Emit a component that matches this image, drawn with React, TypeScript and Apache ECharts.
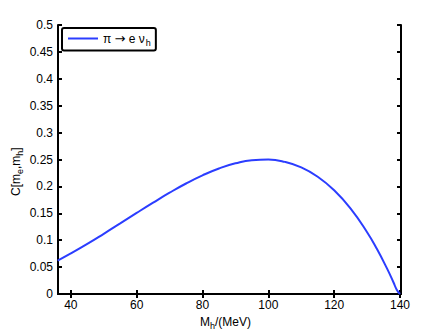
import React, { useEffect, useRef } from "react";
import * as echarts from "echarts";

const massMeV = [36, 40, 45, 50, 55, 60, 65, 70, 75, 80, 85, 90, 95, 100, 105, 110, 115, 120, 125, 130, 133, 136, 138, 139, 140];
const cValues = [0.0621, 0.0754, 0.0931, 0.1119, 0.1312, 0.1507, 0.1698, 0.1883, 0.2054, 0.2206, 0.2333, 0.2429, 0.2487, 0.2498, 0.2456, 0.2353, 0.218, 0.1928, 0.1587, 0.1149, 0.0835, 0.048, 0.0219, 0.0081, 0];
const xTicks = [40, 60, 80, 100, 120, 140];
const seriesName = "pi-e-nuh";

const FONT = "'Liberation Sans', Arial, Helvetica, sans-serif";
const BLUE = "#2b3dff";

export default function App() {
  const ref = useRef<HTMLDivElement>(null);
  useEffect(() => {
    if (!ref.current) return;
    const chart = echarts.init(ref.current, null, { renderer: "svg" });
    const data = massMeV.map((m, i) => [m, cValues[i]]);
    const axisLine = { show: true, lineStyle: { color: "#000", width: 2 } };
    const tick = { show: true, inside: true, length: 4, lineStyle: { color: "#000", width: 2 } };
    chart.setOption({
      animation: false,
      backgroundColor: "#fff",
      grid: { left: 58, right: 42, top: 25, bottom: 38, containLabel: false },
      legend: {
        show: true,
        left: 62,
        top: 28,
        orient: "vertical",
        data: [seriesName],
        backgroundColor: "#fff",
        borderColor: "#000",
        borderWidth: 2,
        borderRadius: 2,
        padding: [4, 5, 3, 6],
        itemWidth: 30,
        itemHeight: 2,
        itemGap: 0,
        icon: "rect",
        formatter: () => "{a|\u03c0 }{r|\u2192}{a| e \u03bd}{s|h}",
        textStyle: {
          fontFamily: FONT,
          fontSize: 12,
          color: "#000",
          rich: {
            a: { fontFamily: FONT, fontSize: 12, color: "#000" },
            r: { fontFamily: "'DejaVu Sans', sans-serif", fontSize: 13, color: "#000" },
            s: { fontFamily: FONT, fontSize: 9, color: "#000", padding: [9, 0, 0, 1] },
          },
        },
      },
      xAxis: [
        {
          type: "value",
          min: 36.1,
          max: 140.3,
          position: "bottom",
          axisLine,
          axisTick: { ...tick, customValues: xTicks },
          splitLine: { show: false },
          axisLabel: { customValues: xTicks, color: "#000", fontFamily: FONT, fontSize: 12, margin: 5 },
        },
        {
          type: "value",
          min: 36.1,
          max: 140.3,
          position: "top",
          axisLine,
          axisTick: { ...tick, customValues: xTicks },
          splitLine: { show: false },
          axisLabel: { show: false },
        },
      ],
      yAxis: [
        {
          type: "value",
          min: 0,
          max: 0.5,
          interval: 0.05,
          position: "left",
          axisLine,
          axisTick: tick,
          splitLine: { show: false },
          axisLabel: { color: "#000", fontFamily: FONT, fontSize: 12, margin: 5 },
        },
        {
          type: "value",
          min: 0,
          max: 0.5,
          interval: 0.05,
          position: "right",
          axisLine,
          axisTick: tick,
          splitLine: { show: false },
          axisLabel: { show: false },
        },
      ],
      series: [
        {
          name: seriesName,
          type: "line",
          data,
          smooth: true,
          showSymbol: false,
          lineStyle: { color: BLUE, width: 2 },
          itemStyle: { color: BLUE },
        },
      ],
      graphic: [
        {
          type: "text",
          x: 200,
          y: 313,
          style: {
            text: "{a|M}{s|h}{a|/(MeV)}",
            fontFamily: FONT,
            rich: {
              a: { fontFamily: FONT, fontSize: 12, fill: "#000" },
              s: { fontFamily: FONT, fontSize: 9, fill: "#000", padding: [8, 0, 0, 0] },
            },
          },
        },
        {
          type: "text",
          x: 7,
          y: 196,
          rotation: Math.PI / 2,
          style: {
            text: "{a|C[m}{s|e}{a|,m}{s|h}{a|]}",
            fontFamily: FONT,
            rich: {
              a: { fontFamily: FONT, fontSize: 12, fill: "#000" },
              s: { fontFamily: FONT, fontSize: 9, fill: "#000", padding: [8, 0, 0, 0] },
            },
          },
        },
      ],
    });
    return () => chart.dispose();
  }, []);
  return <div ref={ref} style={{ position: "fixed", left: 0, top: 0, width: 443, height: 332 }} />;
}
